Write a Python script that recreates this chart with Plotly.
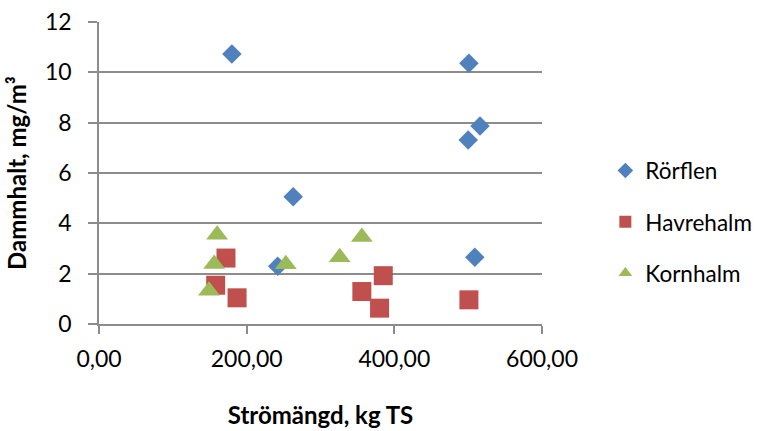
import plotly.graph_objects as go

# Data
ror_x = [180, 263, 242, 501, 516, 500, 509]
ror_y = [10.73, 5.06, 2.29, 10.36, 7.87, 7.31, 2.65]

havre_x = [172, 158, 187, 385, 356, 380, 501]
havre_y = [2.62, 1.54, 1.04, 1.92, 1.29, 0.63, 0.96]

korn_x = [160, 156, 149, 253, 326, 356]
korn_y = [3.55, 2.38, 1.32, 2.37, 2.65, 3.46]

x_ticks = [0, 200, 400, 600]
x_tick_labels = ["0,00", "200,00", "400,00", "600,00"]
y_ticks = [0, 2, 4, 6, 8, 10, 12]

FONT = "Lato"
GRAY = "#8c8c8c"

fig = go.Figure()
fig.add_trace(go.Scatter(x=ror_x, y=ror_y, mode="markers", name="Rörflen", legendgroup="a",
                         marker=dict(symbol="diamond", size=15, color="#4F81BD")))
fig.add_trace(go.Scatter(x=havre_x, y=havre_y, mode="markers", name="Havrehalm", legendgroup="b",
                         marker=dict(symbol="square", size=19, color="#C0504D")))
fig.add_trace(go.Scatter(x=korn_x, y=korn_y, mode="markers", name="Kornhalm", legendgroup="c",
                         marker=dict(symbol="triangle-up", size=19, color="#9BBB59")))

fig.update_layout(
    width=760, height=431,
    margin=dict(l=99, r=218, t=22, b=107, autoexpand=False),
    paper_bgcolor="white", plot_bgcolor="white",
    font=dict(family=FONT, size=23, color="black"),
    showlegend=True,
    legend=dict(x=1.143, xref="paper", y=0.338, xanchor="left", yanchor="middle",
                font=dict(family=FONT, size=22.5, color="black"),
                itemsizing="constant", traceorder="grouped", tracegroupgap=19,
                itemwidth=30),
    xaxis=dict(range=[0, 600], tickvals=x_ticks, ticktext=x_tick_labels,
               showgrid=False, zeroline=False, automargin=False,
               showline=True, linecolor=GRAY, linewidth=1.5,
               ticks="outside", ticklen=8, tickcolor=GRAY, tickwidth=1.5,
               ticklabelstandoff=6,
               title=dict(text="<b>Strömängd, kg TS</b>", standoff=36,
                          font=dict(family=FONT, size=24))),
    yaxis=dict(range=[0, 12], tickvals=y_ticks,
               showgrid=True, gridcolor=GRAY, gridwidth=1.5, zeroline=False,
               automargin=False,
               showline=True, linecolor=GRAY, linewidth=1.5,
               ticks="outside", ticklen=9, tickcolor=GRAY, tickwidth=1.5,
               ticklabelstandoff=12,
               title=dict(text="<b>Dammhalt, mg/m³</b>", standoff=12,
                          font=dict(family=FONT, size=24))),
)

fig.write_html("out.html")
